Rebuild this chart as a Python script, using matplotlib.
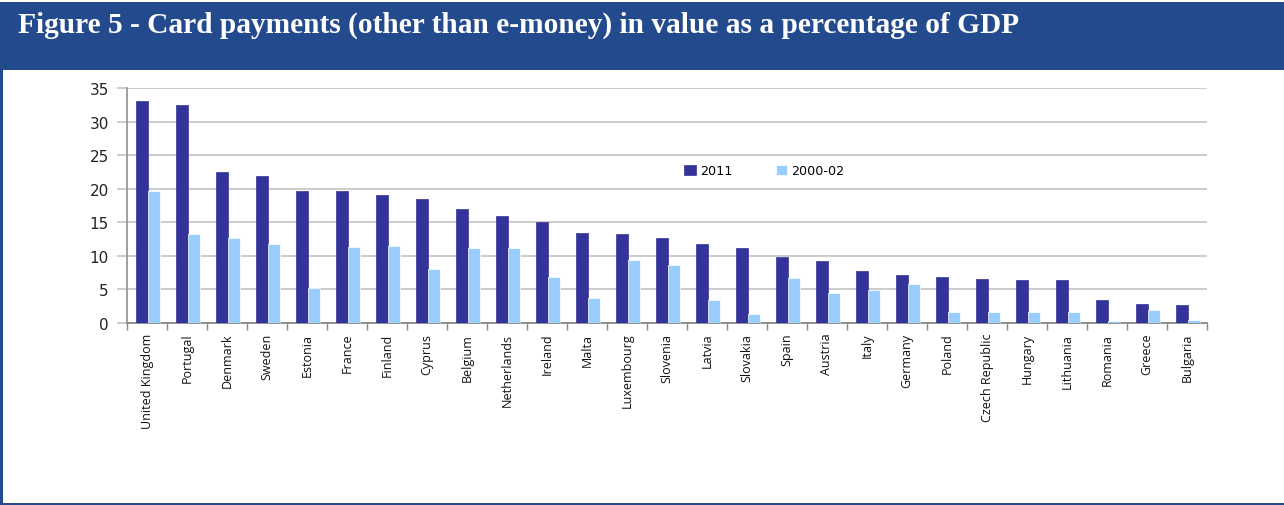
import matplotlib
matplotlib.use("Agg")
import matplotlib.pyplot as plt
from matplotlib.patches import Rectangle
import numpy as np

countries = ["United Kingdom", "Portugal", "Denmark", "Sweden", "Estonia", "France",
             "Finland", "Cyprus", "Belgium", "Netherlands", "Ireland", "Malta",
             "Luxembourg", "Slovenia", "Latvia", "Slovakia", "Spain", "Austria",
             "Italy", "Germany", "Poland", "Czech Republic", "Hungary", "Lithuania",
             "Romania", "Greece", "Bulgaria"]
v2011 = [33.1, 32.5, 22.5, 21.9, 19.7, 19.7, 19.1, 18.5, 17.0, 16.0, 15.0, 13.4,
         13.2, 12.6, 11.7, 11.1, 9.9, 9.2, 7.7, 7.1, 6.9, 6.6, 6.4, 6.4, 3.5, 2.9, 2.7]
v2000 = [19.7, 13.2, 12.7, 11.7, 5.2, 11.3, 11.5, 8.1, 11.1, 11.1, 6.9, 3.7,
         9.4, 8.6, 3.5, 1.4, 6.7, 4.5, 4.9, 5.8, 1.6, 1.6, 1.6, 1.6, 0.3, 2.0, 0.5]
series_labels = ["2011", "2000-02"]
yticks = [0, 5, 10, 15, 20, 25, 30, 35]
title = "Figure 5 - Card payments (other than e-money) in value as a percentage of GDP"

W, H = 1284, 506
fig = plt.figure(figsize=(W / 100, H / 100), dpi=100)
fig.patch.set_facecolor("white")

band = "#244A8E"
# header band
fig.patches.append(Rectangle((0, 1 - 71 / H), 1, 68 / H, transform=fig.transFigure,
                             facecolor=band, edgecolor="none", zorder=0))
# left border and bottom border
fig.patches.append(Rectangle((0, 0), 2.5 / W, 1 - 71 / H, transform=fig.transFigure,
                             facecolor=band, edgecolor="none", zorder=0))
fig.patches.append(Rectangle((0, 0), 1, 2 / H, transform=fig.transFigure,
                             facecolor=band, edgecolor="none", zorder=0))
fig.text(18 / W, 1 - 25 / H, title, color="white", fontsize=21.2, fontweight="bold",
         family="Liberation Serif", va="center", ha="left")

ax = fig.add_axes([127 / W, (H - 324) / H, (1207 - 127) / W, (324 - 89) / H])
x = np.arange(len(countries))
w = 0.3
ax.bar(x - w / 2 + 0.02, v2011, width=w, color="#333399", edgecolor="#333399", linewidth=0.5,
       label=series_labels[0], zorder=3)
ax.bar(x + w / 2 + 0.02, v2000, width=w, color="#99CCFF", edgecolor="white", linewidth=0.5,
       label=series_labels[1], zorder=3)

ax.set_xlim(-0.5, len(countries) - 0.5)
ax.set_ylim(0, 35)
ax.set_yticks(yticks)
ax.set_yticklabels([str(t) for t in yticks], fontsize=11, family="DejaVu Sans", color="#222222")
ax.yaxis.grid(True, color="#C8C8C8", linewidth=1.3, zorder=0)
ax.set_axisbelow(True)
ax.tick_params(axis="y", length=7, color="#C8C8C8", width=1.3, pad=6)

ax.set_xticks(np.arange(-0.5, len(countries), 1.0))
ax.set_xticklabels([])
ax.tick_params(axis="x", which="major", length=5, color="#888888", width=1)
ax.set_xticks(x, minor=True)
ax.set_xticklabels(countries, minor=True, rotation=90, fontsize=9,
                   family="Open Sans", color="#111111")
ax.tick_params(axis="x", which="minor", length=0, pad=7)

for s in ["top", "right"]:
    ax.spines[s].set_visible(False)
ax.spines["left"].set_color("#999999")
ax.spines["left"].set_linewidth(1.3)
ax.spines["bottom"].set_color("#888888")
ax.spines["bottom"].set_linewidth(1.3)

leg = ax.legend(loc="center", bbox_to_anchor=(0.590, 0.647), ncol=2, frameon=False,
                handlelength=0.9, handleheight=0.9, columnspacing=3.4,
                handletextpad=0.3, prop={"family": "DejaVu Sans", "size": 9.2})

fig.savefig("out.png", dpi=100)
